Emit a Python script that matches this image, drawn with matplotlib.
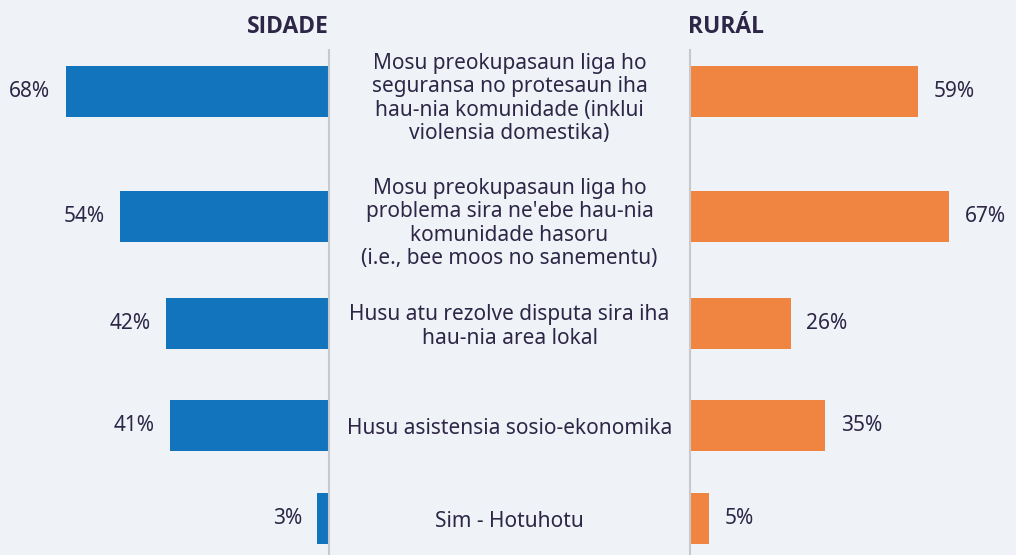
import matplotlib.pyplot as plt

# data
kategoria = [
    "Mosu preokupasaun liga ho\nseguransa no protesaun iha\nhau-nia komunidade (inklui\nviolensia domestika)",
    "Mosu preokupasaun liga ho\nproblema sira ne'ebe hau-nia\nkomunidade hasoru\n(i.e., bee moos no sanementu)",
    "Husu atu rezolve disputa sira iha\nhau-nia area lokal",
    "Husu asistensia sosio-ekonomika",
    "Sim - Hotuhotu",
]
sidade = [68, 54, 42, 41, 3]
rural = [59, 67, 26, 35, 5]

# layout (pixel rows of the original picture)
y_rows = [91.5, 216.5, 323.5, 425.5, 518.5]

W, H = 1016, 555
bg = '#eff3f8'
txt = '#2d2646'
blue = '#1274bd'
orange = '#f08441'
plt.rcParams['font.family'] = ['Noto Sans', 'DejaVu Sans']

fig = plt.figure(figsize=(W/100, H/100), dpi=100)
fig.patch.set_facecolor(bg)

x_left, x_right = 329, 690
skala = 3.87  # px per %

axL = fig.add_axes([0, 0, x_left/W, 1])
axR = fig.add_axes([x_right/W, 0, (W-x_right)/W, 1])
for ax in (axL, axR):
    ax.set_facecolor(bg)
    ax.set_ylim(H, 0)
    ax.axis('off')
axL.set_xlim(x_left/skala, 0)
axR.set_xlim(0, (W-x_right)/skala)

axL.barh(y_rows, sidade, height=51, color=blue)
axR.barh(y_rows, rural, height=51, color=orange)
axL.plot([0, 0], [50, H], color='#c9c9cc', lw=1.5, clip_on=False)
axR.plot([0, 0], [50, H], color='#c9c9cc', lw=1.5, clip_on=False)

for y, v in zip(y_rows, sidade):
    axL.text(v + 4, y, f'{v}%', ha='right', va='center', fontsize=15, color=txt)
for y, v in zip(y_rows, rural):
    axR.text(v + 4, y, f'{v}%', ha='left', va='center', fontsize=15, color=txt)

for y, k in zip(y_rows, kategoria):
    dy = 7 if k.count('\n') > 2 else 3
    fig.text((x_left + x_right)/2/W, 1 - (y + dy)/H, k, ha='center', va='center',
             fontsize=15, color=txt, linespacing=1.13)

hfont = ['Open Sans', 'Lato', 'DejaVu Sans']
fig.text(x_left/W, 1 - 27/H, 'SIDADE', ha='right', va='center', fontsize=16.5,
         fontweight='bold', color=txt, family=hfont)
fig.text((x_right - 2)/W, 1 - 27/H, 'RURÁL', ha='left', va='center', fontsize=16.5,
         fontweight='bold', color=txt, family=hfont)

fig.savefig('out.png', dpi=100, facecolor=bg)
